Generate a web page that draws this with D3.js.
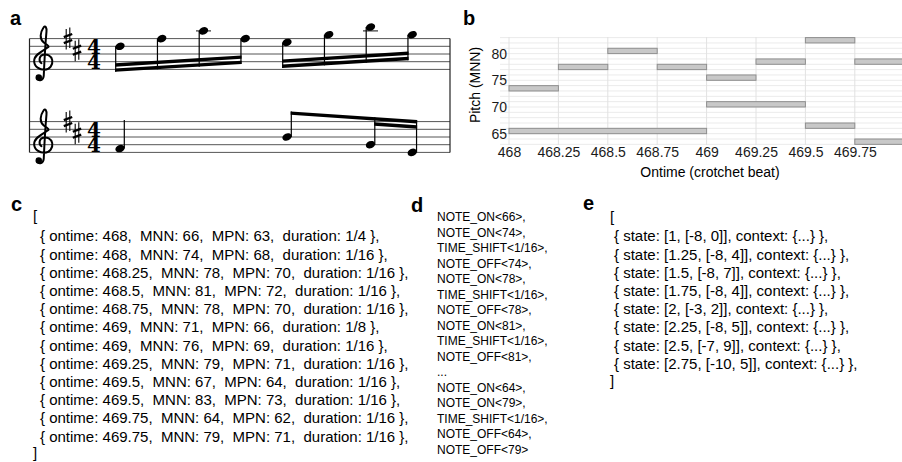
<!DOCTYPE html>
<html>
<head>
<meta charset="utf-8">
<script src="https://cdn.jsdelivr.net/npm/d3@7"></script>
<style>
  body { margin: 0; background: #fff; }
  svg text { font-family: "Liberation Sans", Arial, sans-serif; }
  .code { white-space: pre; }
</style>
</head>
<body>
<div id="fig"></div>
<script>
// Notes of the excerpt, shared by panels a, b and c
const ontimes   = [468, 468, 468.25, 468.5, 468.75, 469, 469, 469.25, 469.5, 469.5, 469.75, 469.75];
const mnns      = [66, 74, 78, 81, 78, 71, 76, 79, 67, 83, 64, 79];
const mpns      = [63, 68, 70, 72, 70, 66, 69, 71, 64, 73, 62, 71];
const durations = ["1/4", "1/16", "1/16", "1/16", "1/16", "1/8", "1/16", "1/16", "1/16", "1/16", "1/16", "1/16"];
// staff of each note in the score: 0 = upper, 1 = lower
const staffs     = [1, 0, 0, 0, 0, 1, 0, 0, 1, 0, 1, 0];
const beamGroups = [[1, 2, 3, 4], [6, 7, 9, 11], [5, 8, 10]];
const keySharps  = [70, 67];   // F# and C# (MPN)
const timeSig    = [4, 4];

// Piano roll ticks
const xTicks = [468, 468.25, 468.5, 468.75, 469, 469.25, 469.5, 469.75];
const yTicks = [65, 70, 75, 80];

// Panel d: event tokens
const tokens = ["NOTE_ON<66>,", "NOTE_ON<74>,", "TIME_SHIFT<1/16>,", "NOTE_OFF<74>,", "NOTE_ON<78>,",
  "TIME_SHIFT<1/16>,", "NOTE_OFF<78>,", "NOTE_ON<81>,", "TIME_SHIFT<1/16>,", "NOTE_OFF<81>,", "...",
  "NOTE_ON<64>,", "NOTE_ON<79>,", "TIME_SHIFT<1/16>,", "NOTE_OFF<64>,", "NOTE_OFF<79>"];

// Panel e: states
const stateOntimes   = [1, 1.25, 1.5, 1.75, 2, 2.25, 2.5, 2.75];
const stateIntervals = [[-8, 0], [-8, 4], [-8, 7], [-8, 4], [-3, 2], [-8, 5], [-7, 9], [-10, 5]];

const frac = s => { const [a, b] = s.split("/"); return +a / +b; };

const svg = d3.select("#fig").append("svg")
  .attr("width", 902).attr("height", 462)
  .style("display", "block").style("background", "#fff");

function panelLabel(txt, x, y) {
  svg.append("text").attr("x", x).attr("y", y).text(txt)
    .attr("font-size", 20).attr("font-weight", "bold").attr("fill", "#000");
}

// ---------------- panel a: score ----------------
const score = svg.append("g");
const xs = d3.scaleLinear().domain([468, 469]).range([120, 287]);
const staffBottom = [69.4, 152.4];
const ys = staffBottom.map(b => d3.scaleLinear().domain([62, 70]).range([b, b - 30.8]));
const space = 7.7;
const staffLeft = 29.5, staffRight = 450;

staffBottom.forEach((b, s) => {
  [62, 64, 66, 68, 70].forEach(m => {
    score.append("line")
      .attr("x1", staffLeft).attr("x2", staffRight)
      .attr("y1", ys[s](m)).attr("y2", ys[s](m))
      .attr("stroke", "#555").attr("stroke-width", 1);
  });
});
// system barlines
[staffLeft, staffRight].forEach(bx => {
  score.append("line")
    .attr("x1", bx).attr("x2", bx)
    .attr("y1", ys[0](70)).attr("y2", ys[1](62))
    .attr("stroke", "#222").attr("stroke-width", 1.2);
});

// treble clef, drawn in staff-space units around the G line
function clefPath(cx, gy) {
  const P = (x, y) => `${(cx + x * space).toFixed(2)},${(gy - y * space).toFixed(2)}`;
  return `M${P(0.1, -1.8)}` +
    `C${P(0.2, 0.5)} ${P(0.35, 2.8)} ${P(0.45, 3.9)}` +
    `C${P(0.5, 4.4)} ${P(0.3, 4.8)} ${P(0.05, 4.4)}` +
    `C${P(-0.35, 3.8)} ${P(-0.5, 3.0)} ${P(0.1, 2.5)}` +
    `C${P(0.5, 2.2)} ${P(0.8, 2.1)} ${P(0.7, 1.9)}` +
    `C${P(0.2, 1.5)} ${P(-1.15, 1.0)} ${P(-1.15, 0.1)}` +
    `C${P(-1.15, -0.7)} ${P(-0.4, -1.05)} ${P(0.2, -1.05)}` +
    `C${P(0.9, -1.05)} ${P(1.3, -0.4)} ${P(1.2, 0.2)}` +
    `C${P(1.1, 0.8)} ${P(0.5, 1.05)} ${P(0.0, 0.9)}` +
    `C${P(-0.5, 0.75)} ${P(-0.6, 0.1)} ${P(-0.2, -0.2)}` +
    `M${P(0.1, -1.8)}` +
    `C${P(0.05, -2.4)} ${P(-0.5, -2.6)} ${P(-0.75, -2.2)}`;
}
function sharpPath(cx, cy) {
  return `M${cx - 1.8},${cy - 9.5}L${cx - 1.8},${cy + 11}` +
    `M${cx + 1.8},${cy - 11}L${cx + 1.8},${cy + 9.5}`;
}

staffBottom.forEach((b, s) => {
  const gy = ys[s](64);
  score.append("path").attr("d", clefPath(43, gy))
    .attr("fill", "none").attr("stroke", "#000").attr("stroke-width", 2)
    .attr("stroke-linecap", "round");
  score.append("circle").attr("cx", 43 - 0.55 * space).attr("cy", gy + 2.05 * space)
    .attr("r", 0.42 * space).attr("fill", "#000");

  keySharps.forEach((m, k) => {
    const cx = 68 + k * 9, cy = ys[s](m);
    score.append("path").attr("d", sharpPath(cx, cy))
      .attr("stroke", "#000").attr("stroke-width", 1.1);
    [-3, 3].forEach(off => {
      score.append("path")
        .attr("d", `M${cx - 4.2},${cy + off + 1.6}L${cx + 4.2},${cy + off - 1.6}`)
        .attr("stroke", "#000").attr("stroke-width", 2.4);
    });
  });

  // time signature as one stacked text
  const ts = score.append("text")
    .attr("text-anchor", "middle")
    .style("font-family", "'DejaVu Serif', serif")
    .attr("font-weight", "bold").attr("font-size", 20);
  timeSig.forEach((n, k) => {
    ts.append("tspan").attr("x", 94).attr("y", ys[s](66 - 4 * k) - 0.2).text(n);
  });
});

// notes
const rx = 4.8, ry = 3.6;
const dirOf = i => staffs[i] === 0 ? 1 : -1;   // +1 stem down, -1 stem up
const noteX = i => xs(ontimes[i]);
const noteY = i => ys[staffs[i]](mpns[i]);
const stemX = i => noteX(i) - dirOf(i) * (rx - 0.5);

ontimes.forEach((t, i) => {
  const s = staffs[i];
  for (let m = 72; m <= mpns[i]; m += 2) {
    score.append("line").attr("x1", noteX(i) - 7.5).attr("x2", noteX(i) + 7.5)
      .attr("y1", ys[s](m)).attr("y2", ys[s](m)).attr("stroke", "#222").attr("stroke-width", 1.1);
  }
  for (let m = 60; m >= mpns[i]; m -= 2) {
    score.append("line").attr("x1", noteX(i) - 7.5).attr("x2", noteX(i) + 7.5)
      .attr("y1", ys[s](m)).attr("y2", ys[s](m)).attr("stroke", "#222").attr("stroke-width", 1.1);
  }
  score.append("ellipse")
    .attr("cx", noteX(i)).attr("cy", noteY(i)).attr("rx", rx).attr("ry", ry)
    .attr("transform", `rotate(-22 ${noteX(i)} ${noteY(i)})`)
    .attr("fill", "#000");
});

// stems and beams
const stemLen = 25.5, maxSlope = 0.068, beamT = 3.4, beamGap = 1.8;
const inBeam = new Set(beamGroups.flat());
ontimes.forEach((t, i) => {
  if (inBeam.has(i)) return;
  const d = dirOf(i);
  score.append("line").attr("x1", stemX(i)).attr("x2", stemX(i))
    .attr("y1", noteY(i)).attr("y2", noteY(i) + d * 28.5)
    .attr("stroke", "#000").attr("stroke-width", 1.2);
});

beamGroups.forEach(g => {
  const f = g[0], l = g[g.length - 1], d = dirOf(f);
  const y0 = noteY(f) + d * stemLen;
  const raw = (noteY(l) - noteY(f)) / (stemX(l) - stemX(f));
  const slope = Math.max(-maxSlope, Math.min(maxSlope, raw));
  const by = xp => y0 + slope * (xp - stemX(f));

  g.forEach(i => {
    score.append("line").attr("x1", stemX(i)).attr("x2", stemX(i))
      .attr("y1", noteY(i)).attr("y2", by(stemX(i)))
      .attr("stroke", "#000").attr("stroke-width", 1.2);
  });

  const beamPoly = (x1, x2, level) => {
    const off = -d * level * (beamT + beamGap);
    return [[x1, by(x1) + off], [x2, by(x2) + off],
            [x2, by(x2) + off - d * beamT], [x1, by(x1) + off - d * beamT]];
  };
  const count = i => frac(durations[i]) <= 1 / 16 ? 2 : 1;
  for (let level = 0; level < 2; level++) {
    let run = [];
    g.concat([null]).forEach(i => {
      if (i !== null && count(i) > level) { run.push(i); return; }
      if (run.length > 1) {
        score.append("polygon")
          .attr("points", beamPoly(stemX(run[0]) - 0.6, stemX(run[run.length - 1]) + 0.6, level).join(" "))
          .attr("fill", "#000");
      }
      run = [];
    });
  }
});
panelLabel("a", 10, 25);

// ---------------- panel b: piano roll ----------------
const roll = { left: 500, right: 902, top: 37, bottom: 145 };
const x = d3.scaleLinear().domain([468, 470]).range([509, 904.2]);
const y = d3.scaleLinear().domain([75, 83]).range([80.3, 37.6]);

svg.append("clipPath").attr("id", "rollclip").append("rect")
  .attr("x", roll.left).attr("y", roll.top)
  .attr("width", roll.right - roll.left).attr("height", roll.bottom - roll.top);
const rollG = svg.append("g").attr("clip-path", "url(#rollclip)");

rollG.selectAll(".hgrid").data(d3.range(63, 84)).join("line")
  .attr("x1", roll.left).attr("x2", roll.right)
  .attr("y1", d => y(d)).attr("y2", d => y(d))
  .attr("stroke", "#ebebeb").attr("stroke-width", 1);
rollG.selectAll(".vgrid").data(d3.range(468, 470.01, 0.25)).join("line")
  .attr("x1", d => x(d)).attr("x2", d => x(d))
  .attr("y1", roll.top).attr("y2", roll.bottom)
  .attr("stroke", "#e2e2e2").attr("stroke-width", 1);

rollG.selectAll(".note").data(ontimes).join("rect")
  .attr("x", d => x(d))
  .attr("width", (d, i) => x(d + 4 * frac(durations[i])) - x(d))
  .attr("y", (d, i) => y(mnns[i]))
  .attr("height", (d, i) => y(mnns[i] - 1) - y(mnns[i]))
  .attr("fill", "#c8c8c8").attr("stroke", "#8e8e8e").attr("stroke-width", 1);

const fmt = d => String(d);
const xAxis = svg.append("g").attr("transform", `translate(0,${roll.bottom})`)
  .call(d3.axisBottom(x).tickValues(xTicks).tickFormat(fmt).tickSize(0).tickPadding(2));
const yAxis = svg.append("g").attr("transform", `translate(507,0)`)
  .call(d3.axisLeft(y).tickValues(yTicks).tickFormat(fmt).tickSize(0).tickPadding(0));
[xAxis, yAxis].forEach(a => {
  a.select(".domain").remove();
  a.selectAll("text").attr("font-size", 14).attr("fill", "#1a1a1a")
    .style("font-family", "'Liberation Sans', Arial, sans-serif");
});

svg.append("text").attr("x", 710).attr("y", 177).attr("text-anchor", "middle")
  .attr("font-size", 14).text("Ontime (crotchet beat)");
svg.append("text").attr("transform", "translate(480,85) rotate(-90)")
  .attr("text-anchor", "middle").attr("font-size", 14).text("Pitch (MNN)");
panelLabel("b", 463, 25);

// ---------------- panel c: note list ----------------
const rowH = 18.2;
panelLabel("c", 11, 211);
svg.append("text").attr("x", 33).attr("y", 221).attr("font-size", 15).text("[");
svg.selectAll(".crow").data(ontimes).join("text")
  .attr("class", "code")
  .attr("x", 40).attr("y", (d, i) => 241.4 + i * rowH)
  .attr("font-size", 15)
  .text((d, i) => `{ ontime: ${d},  MNN: ${mnns[i]},  MPN: ${mpns[i]},  duration: ${durations[i]} },`);
svg.append("text").attr("x", 33).attr("y", 241.4 + ontimes.length * rowH - 1.5).attr("font-size", 15).text("]");

// ---------------- panel d: tokens ----------------
panelLabel("d", 411, 212);
svg.selectAll(".drow").data(tokens).join("text")
  .attr("x", 437).attr("y", (d, i) => 221.3 + i * 15.5)
  .attr("font-size", 12).text(d => d);

// ---------------- panel e: states ----------------
panelLabel("e", 583, 210);
svg.append("text").attr("x", 610).attr("y", 222).attr("font-size", 15).text("[");
svg.selectAll(".erow").data(stateOntimes).join("text")
  .attr("class", "code")
  .attr("x", 614).attr("y", (d, i) => 241.4 + i * rowH)
  .attr("font-size", 15)
  .text((d, i) => `{ state: [${d}, [${stateIntervals[i][0]}, ${stateIntervals[i][1]}]], context: {...} },`);
svg.append("text").attr("x", 610).attr("y", 241.4 + stateOntimes.length * rowH - 1.5).attr("font-size", 15).text("]");
</script>
</body>
</html>
